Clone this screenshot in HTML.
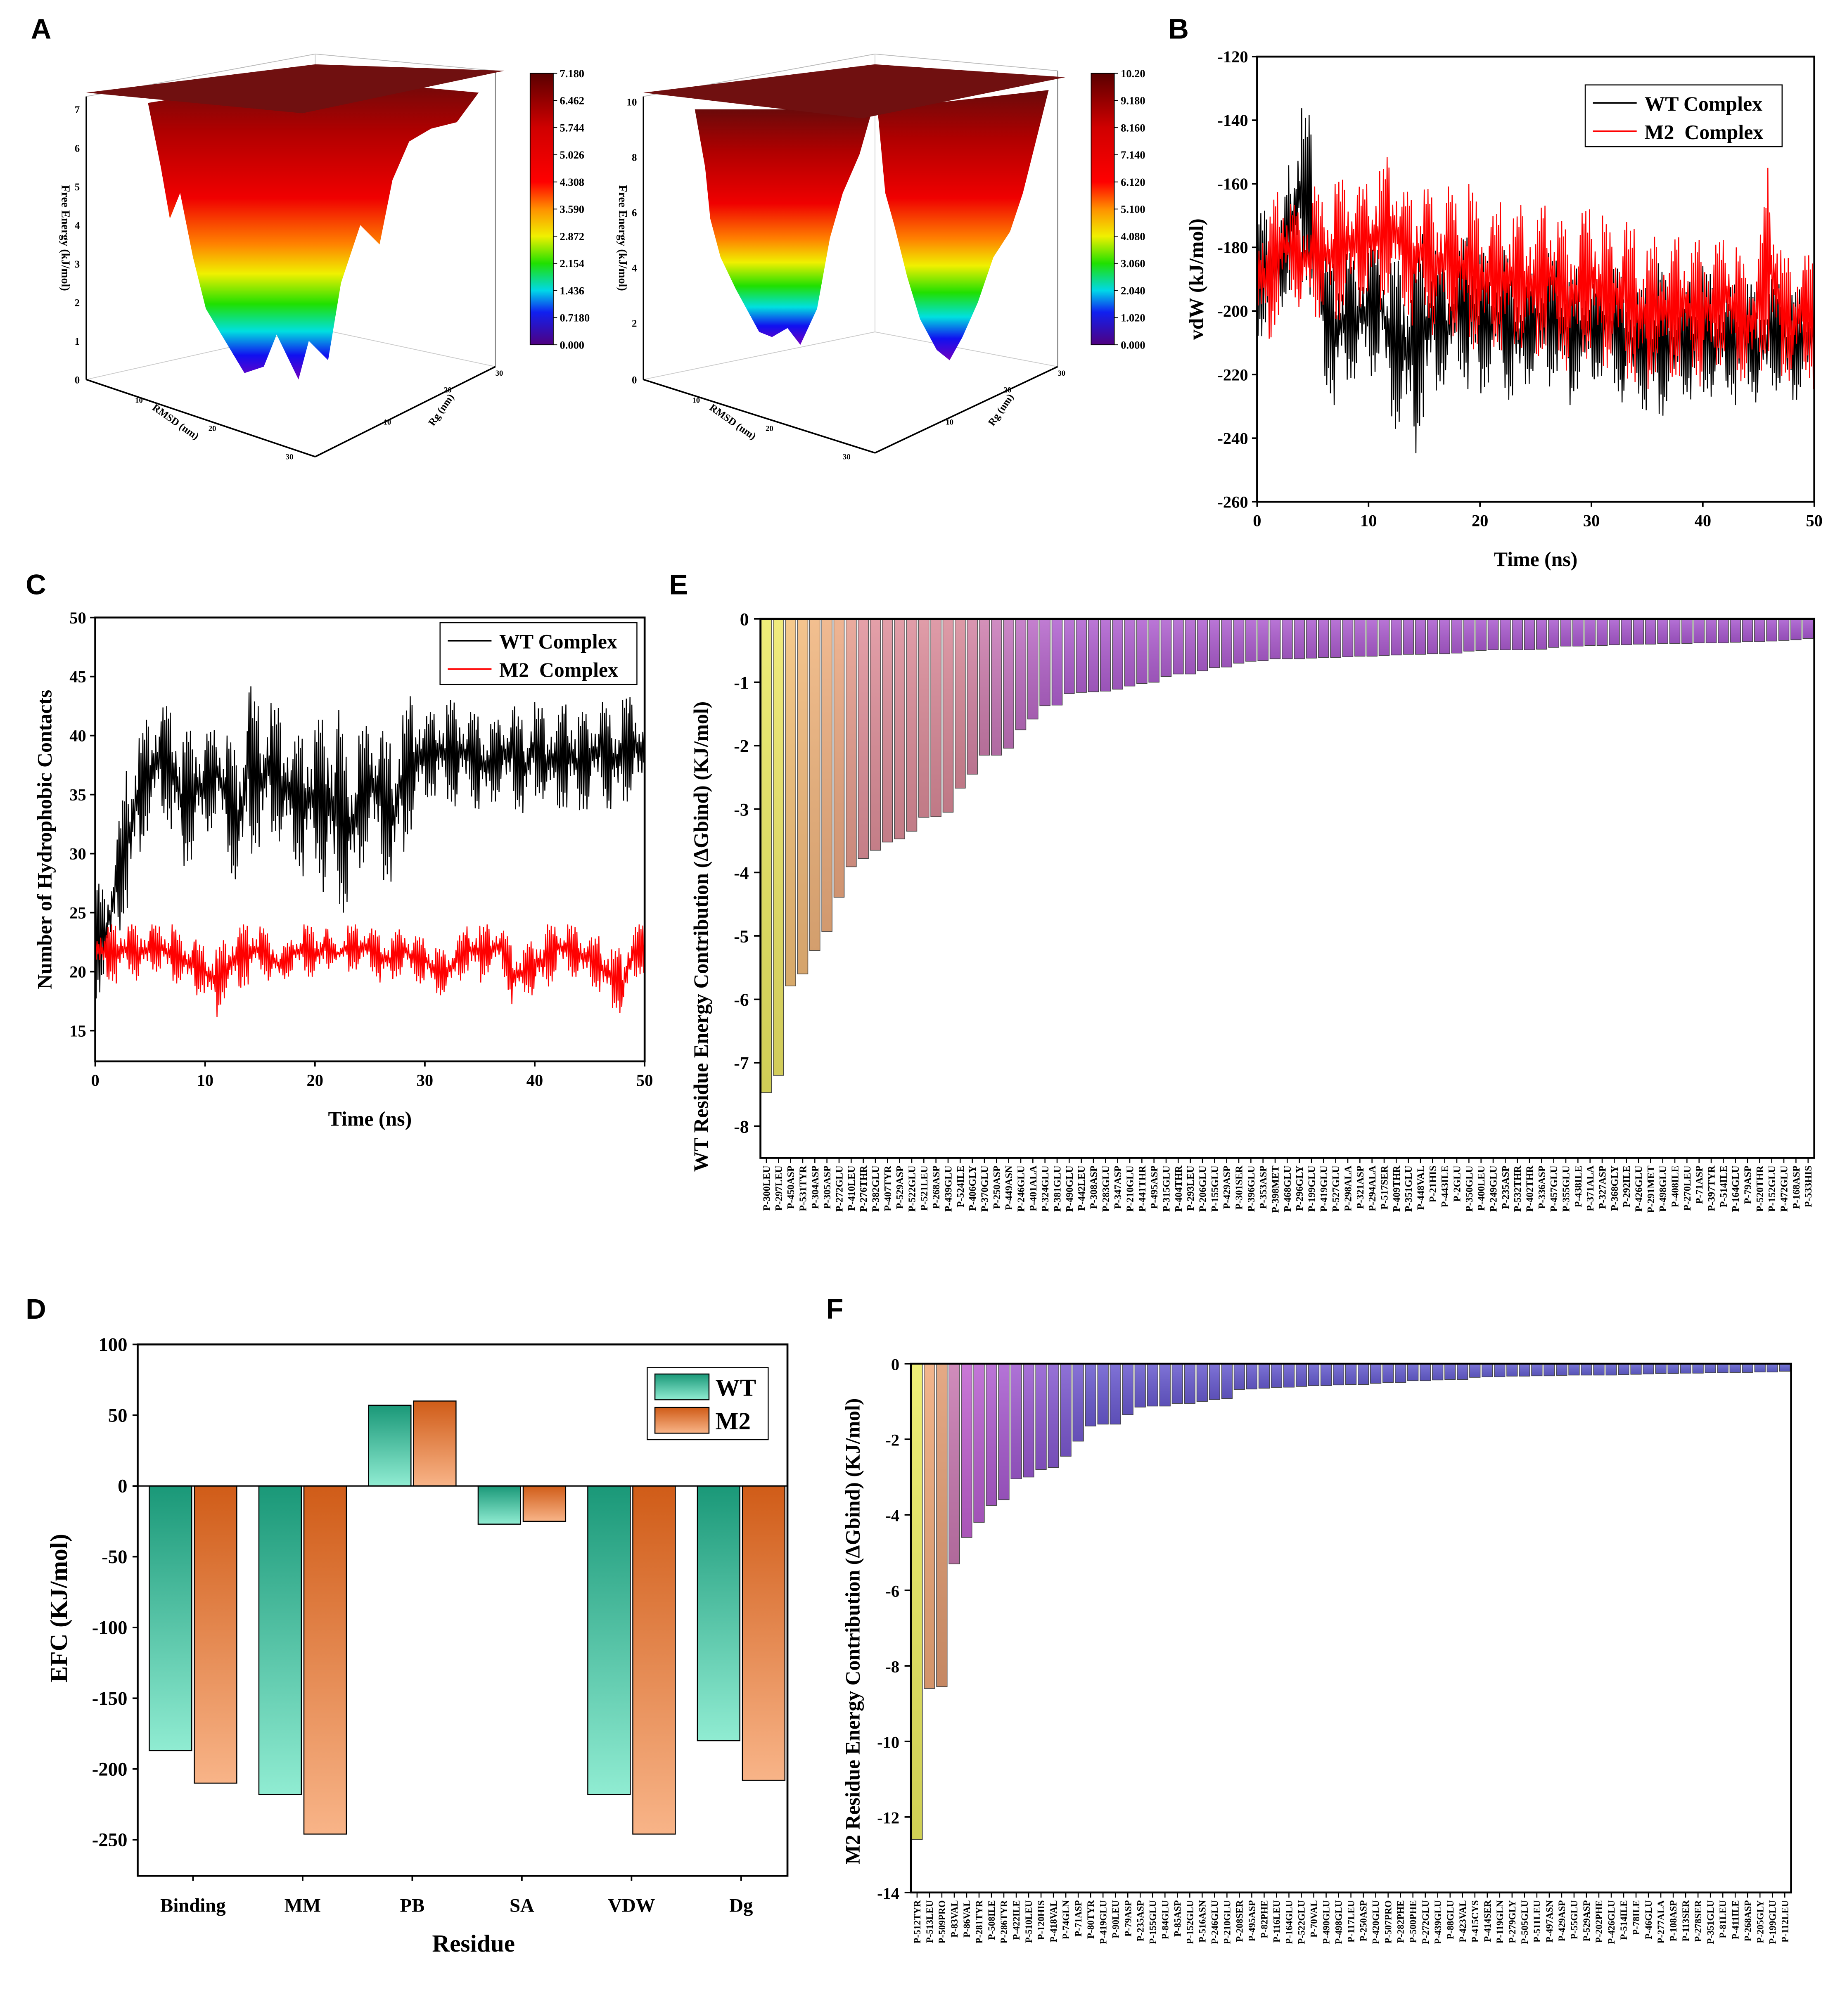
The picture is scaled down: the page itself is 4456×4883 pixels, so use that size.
<!DOCTYPE html>
<html><head><meta charset="utf-8"><style>
html,body{margin:0;padding:0;background:#fff;}
svg{display:block;}
text{font-family:"Liberation Serif",serif;font-weight:bold;fill:#000;}
.pl{font-family:"Liberation Sans",sans-serif;font-size:22px;}
</style></head><body>
<svg id="fig" width="4456" height="4883" viewBox="0 0 1430 1567" preserveAspectRatio="none" xmlns="http://www.w3.org/2000/svg">
<defs>
<linearGradient id="fe" x1="0" y1="0" x2="0" y2="1">
<stop offset="0" stop-color="#6a0a0a"/><stop offset="0.18" stop-color="#b00000"/><stop offset="0.4" stop-color="#f00000"/><stop offset="0.55" stop-color="#ff8000"/><stop offset="0.65" stop-color="#f0f000"/><stop offset="0.75" stop-color="#20e000"/><stop offset="0.84" stop-color="#00e0e0"/><stop offset="0.92" stop-color="#1010f0"/><stop offset="1" stop-color="#7000c0"/></linearGradient>
<linearGradient id="cb" x1="0" y1="0" x2="0" y2="1">
<stop offset="0" stop-color="#5a0000"/><stop offset="0.2" stop-color="#d00000"/><stop offset="0.4" stop-color="#ff0000"/><stop offset="0.5" stop-color="#ff9000"/><stop offset="0.6" stop-color="#f0f000"/><stop offset="0.7" stop-color="#20e000"/><stop offset="0.8" stop-color="#00d8e8"/><stop offset="0.88" stop-color="#1020f0"/><stop offset="1" stop-color="#500080"/></linearGradient>
<linearGradient id="wtN" x1="0" y1="0" x2="0" y2="1"><stop offset="0" stop-color="#1a9878"/><stop offset="1" stop-color="#90ecd2"/></linearGradient>
<linearGradient id="m2N" x1="0" y1="0" x2="0" y2="1"><stop offset="0" stop-color="#d05c18"/><stop offset="1" stop-color="#f8b488"/></linearGradient>
<linearGradient id="wtP" x1="0" y1="1" x2="0" y2="0"><stop offset="0" stop-color="#90ecd2"/><stop offset="1" stop-color="#1a9878"/></linearGradient>
<linearGradient id="m2P" x1="0" y1="1" x2="0" y2="0"><stop offset="0" stop-color="#f8b488"/><stop offset="1" stop-color="#d05c18"/></linearGradient>
<linearGradient id="shade" x1="0" y1="0" x2="0" y2="1"><stop offset="0" stop-color="#fff" stop-opacity="0.15"/><stop offset="1" stop-color="#000" stop-opacity="0.12"/></linearGradient>
</defs>

<text class="pl" x="24" y="30">A</text>
<text class="pl" x="908" y="30">B</text>
<text class="pl" x="20" y="462">C</text>
<text class="pl" x="520" y="462">E</text>
<text class="pl" x="20" y="1025">D</text>
<text class="pl" x="642" y="1025">F</text>

<g>
<polyline points="67,75 67,295 245,355 385,285 385,55" fill="none" stroke="#888" stroke-width="0.8"/>
<polyline points="67,75 245,42 385,55" fill="none" stroke="#bbb" stroke-width="0.6"/>
<line x1="245" y1="42" x2="245" y2="255" stroke="#ccc" stroke-width="0.6"/>
<line x1="67" y1="295" x2="245" y2="255" stroke="#ccc" stroke-width="0.6"/>
<line x1="385" y1="285" x2="245" y2="255" stroke="#ccc" stroke-width="0.6"/>
<polygon points="115,80 125,130 132,170 140,150 150,200 160,240 175,265 190,290 205,285 215,260 232,295 240,265 255,280 265,220 280,175 295,190 305,140 318,110 335,100 355,95 372,72 240,60" fill="url(#fe)"/>
<polygon points="67,72 245,50 392,55 235,88" fill="#701010"/>
<line x1="67" y1="295" x2="245" y2="355" stroke="#000" stroke-width="1.2"/>
<line x1="245" y1="355" x2="385" y2="285" stroke="#000" stroke-width="1.2"/>
<line x1="67" y1="75" x2="67" y2="295" stroke="#000" stroke-width="1"/>
</g>
<g font-size="8">
<text x="62" y="298" text-anchor="end">0</text><text x="62" y="268" text-anchor="end">1</text><text x="62" y="238" text-anchor="end">2</text><text x="62" y="208" text-anchor="end">3</text><text x="62" y="178" text-anchor="end">4</text><text x="62" y="148" text-anchor="end">5</text><text x="62" y="118" text-anchor="end">6</text><text x="62" y="88" text-anchor="end">7</text>
<text transform="translate(48,185) rotate(90)" text-anchor="middle" font-size="9">Free Energy (kJ/mol)</text>
<text transform="translate(135,330) rotate(35)" text-anchor="middle" font-size="8">RMSD (nm)</text>
<text transform="translate(345,320) rotate(-55)" text-anchor="middle" font-size="8">Rg (nm)</text>
<text x="105" y="313" font-size="6">10</text><text x="162" y="335" font-size="6">20</text><text x="222" y="357" font-size="6">30</text>
<text x="298" y="330" font-size="6">10</text><text x="345" y="305" font-size="6">20</text><text x="385" y="292" font-size="6">30</text>
</g>
<g>
<rect x="412" y="57" width="18" height="211" fill="url(#cb)" stroke="#000" stroke-width="0.6"/>
<g font-size="8.5" id="cbl1"></g>
</g>

<g>
<polyline points="500,75 500,295 680,352 822,285 822,55" fill="none" stroke="#888" stroke-width="0.8"/>
<polyline points="500,75 680,42 822,55" fill="none" stroke="#bbb" stroke-width="0.6"/>
<line x1="680" y1="42" x2="680" y2="258" stroke="#ccc" stroke-width="0.6"/>
<line x1="500" y1="295" x2="680" y2="258" stroke="#ccc" stroke-width="0.6"/>
<line x1="822" y1="285" x2="680" y2="258" stroke="#ccc" stroke-width="0.6"/>
<polygon points="540,85 548,130 552,170 560,200 572,225 590,258 600,262 612,255 622,268 635,240 645,185 655,150 668,120 678,85" fill="url(#fe)"/>
<polygon points="682,85 688,150 695,175 705,215 715,248 728,272 738,280 748,262 760,235 772,200 785,180 795,150 815,70" fill="url(#fe)"/>
<polygon points="500,72 680,50 828,60 670,92" fill="#701010"/>
<line x1="500" y1="295" x2="680" y2="352" stroke="#000" stroke-width="1.2"/>
<line x1="680" y1="352" x2="822" y2="285" stroke="#000" stroke-width="1.2"/>
<line x1="500" y1="75" x2="500" y2="295" stroke="#000" stroke-width="1"/>
</g>
<g font-size="8">
<text x="495" y="298" text-anchor="end">0</text><text x="495" y="254" text-anchor="end">2</text><text x="495" y="211" text-anchor="end">4</text><text x="495" y="168" text-anchor="end">6</text><text x="495" y="125" text-anchor="end">8</text><text x="495" y="82" text-anchor="end">10</text>
<text transform="translate(481,185) rotate(90)" text-anchor="middle" font-size="9">Free Energy (kJ/mol)</text>
<text transform="translate(568,330) rotate(35)" text-anchor="middle" font-size="8">RMSD (nm)</text>
<text transform="translate(780,320) rotate(-55)" text-anchor="middle" font-size="8">Rg (nm)</text>
<text x="538" y="313" font-size="6">10</text><text x="595" y="335" font-size="6">20</text><text x="655" y="357" font-size="6">30</text>
<text x="735" y="330" font-size="6">10</text><text x="780" y="305" font-size="6">20</text><text x="822" y="292" font-size="6">30</text>
</g>
<g>
<rect x="848" y="57" width="18" height="211" fill="url(#cb)" stroke="#000" stroke-width="0.6"/>
<g font-size="8.5" id="cbl2"></g>
</g>

<g id="pB"></g>
<g id="pC"></g>
<g id="pD"></g>
<g id="pE"></g>
<g id="pF"></g>
</svg>
<script>
const cbLabels1 = ["7.180","6.462","5.744","5.026","4.308","3.590","2.872","2.154","1.436","0.7180","0.000"];
const cbLabels2 = ["10.20","9.180","8.160","7.140","6.120","5.100","4.080","3.060","2.040","1.020","0.000"];

const bTime = [0,1,2,3,4,5,6,7,8,9,10,11,12,13,14,15,16,17,18,19,20,21,22,23,24,25,26,27,28,29,30,31,32,33,34,35,36,37,38,39,40,41,42,43,44,45,46,47,48,49,50];
const bWtHi = [-170,-165,-175,-150,-135,-140,-180,-185,-180,-185,-175,-180,-185,-180,-180,-175,-180,-185,-180,-175,-180,-185,-180,-185,-190,-185,-180,-185,-190,-185,-190,-190,-185,-190,-195,-190,-185,-190,-195,-190,-185,-190,-195,-190,-190,-195,-190,-190,-195,-190,-195];
const bWtLo = [-210,-205,-200,-195,-190,-200,-225,-230,-225,-220,-225,-215,-235,-240,-248,-235,-225,-225,-220,-225,-230,-220,-225,-230,-225,-220,-225,-220,-230,-225,-225,-220,-225,-230,-225,-235,-235,-230,-225,-230,-225,-230,-225,-230,-225,-230,-225,-225,-230,-225,-225];
const bM2Hi = [-165,-170,-160,-165,-170,-160,-165,-160,-155,-160,-160,-155,-150,-160,-165,-160,-165,-160,-165,-160,-165,-170,-165,-170,-165,-170,-165,-170,-175,-170,-165,-170,-175,-170,-175,-180,-175,-180,-175,-180,-175,-180,-175,-180,-185,-180,-150,-180,-185,-180,-185];
const bM2Lo = [-210,-215,-200,-195,-200,-205,-200,-205,-200,-200,-195,-200,-195,-200,-205,-200,-210,-205,-210,-210,-215,-210,-215,-210,-215,-220,-210,-215,-220,-215,-215,-220,-215,-220,-225,-225,-220,-225,-220,-220,-225,-220,-215,-220,-225,-220,-215,-220,-225,-220,-225];
const bYTicks = [-120,-140,-160,-180,-200,-220,-240,-260];
const xTicks = [0,10,20,30,40,50];

const cWtHi = [28,27,32,38,40,42,43,42,40,41,40,41,40,39,45,42,43,42,40,40,41,42,43,38,40,42,41,39,42,44,42,42,43,43,42,42,41,42,43,41,43,42,42,43,42,42,43,42,43,44,42];
const cWtLo = [17,20,23,25,30,32,33,32,28,30,31,33,30,26,30,30,32,30,29,28,29,26,25,25,28,31,28,27,30,32,34,35,34,34,35,33,34,35,34,33,35,34,33,34,33,34,35,33,34,35,34];
const cM2Hi = [24,24,24,24,24,24,24,24,23,23,22,22,23,24,24,24,23,22,23,24,24,24,22,24,24,24,23,23,24,23,23,22,22,23,24,24,24,24,22,22,23,24,24,24,24,23,23,22,22,24,24];
const cM2Lo = [20,19,19,20,19,20,20,19,19,18,18,16,18,18,19,20,19,19,20,20,19,20,21,20,20,20,19,19,20,19,19,18,18,19,20,19,20,20,17,18,18,18,20,20,19,19,18,17,16,19,20];
const cYTicks = [15,20,25,30,35,40,45,50];

const dCats = ["Binding","MM","PB","SA","VDW","Dg"];
const dWT = [-187,-218,57,-27,-218,-180];
const dM2 = [-210,-246,60,-25,-246,-208];
const dYTicks = [100,50,0,-50,-100,-150,-200,-250];

const eLabels = ["P-300LEU","P-297LEU","P-450ASP","P-531TYR","P-304ASP","P-305ASP","P-272GLU","P-410LEU","P-276THR","P-382GLU","P-407TYR","P-529ASP","P-522GLU","P-521LEU","P-268ASP","P-439GLU","P-524ILE","P-406GLY","P-370GLU","P-250ASP","P-449ASN","P-246GLU","P-401ALA","P-324GLU","P-381GLU","P-490GLU","P-442LEU","P-308ASP","P-283GLU","P-347ASP","P-210GLU","P-441THR","P-495ASP","P-315GLU","P-404THR","P-293LEU","P-206GLU","P-155GLU","P-429ASP","P-301SER","P-396GLU","P-353ASP","P-398MET","P-468GLU","P-296GLY","P-199GLU","P-419GLU","P-527GLU","P-298ALA","P-321ASP","P-294ALA","P-517SER","P-409THR","P-351GLU","P-448VAL","P-21HIS","P-443ILE","P-2GLU","P-350GLU","P-400LEU","P-249GLU","P-235ASP","P-532THR","P-402THR","P-336ASP","P-457GLU","P-355GLU","P-438ILE","P-371ALA","P-327ASP","P-368GLY","P-292ILE","P-426GLU","P-291MET","P-498GLU","P-408ILE","P-270LEU","P-71ASP","P-397TYR","P-514ILE","P-164GLU","P-79ASP","P-520THR","P-152GLU","P-472GLU","P-168ASP","P-533HIS"];
const eValues = [-7.47,-7.2,-5.79,-5.6,-5.23,-4.93,-4.39,-3.91,-3.78,-3.65,-3.52,-3.47,-3.35,-3.13,-3.12,-3.05,-2.67,-2.45,-2.15,-2.15,-2.04,-1.75,-1.58,-1.37,-1.36,-1.18,-1.16,-1.15,-1.14,-1.11,-1.06,-1.02,-1.0,-0.91,-0.87,-0.87,-0.82,-0.77,-0.76,-0.70,-0.67,-0.66,-0.63,-0.63,-0.63,-0.62,-0.61,-0.61,-0.6,-0.59,-0.59,-0.58,-0.57,-0.56,-0.56,-0.55,-0.55,-0.54,-0.51,-0.5,-0.49,-0.49,-0.49,-0.49,-0.48,-0.45,-0.43,-0.43,-0.42,-0.42,-0.41,-0.41,-0.40,-0.40,-0.39,-0.39,-0.39,-0.38,-0.38,-0.38,-0.37,-0.36,-0.36,-0.35,-0.34,-0.33,-0.31];
const eYTicks = [0,-1,-2,-3,-4,-5,-6,-7,-8];

const fLabels = ["P-512TYR","P-513LEU","P-509PRO","P-83VAL","P-86VAL","P-281TYR","P-508ILE","P-286TYR","P-422ILE","P-510LEU","P-120HIS","P-418VAL","P-74GLN","P-71ASP","P-80TYR","P-419GLU","P-90LEU","P-79ASP","P-235ASP","P-155GLU","P-84GLU","P-85ASP","P-152GLU","P-516ASN","P-246GLU","P-210GLU","P-208SER","P-495ASP","P-82PHE","P-116LEU","P-164GLU","P-522GLU","P-70VAL","P-490GLU","P-498GLU","P-117LEU","P-250ASP","P-420GLU","P-507PRO","P-282PHE","P-500PHE","P-272GLU","P-439GLU","P-88GLU","P-423VAL","P-415CYS","P-414SER","P-119GLN","P-279GLY","P-505GLU","P-511LEU","P-497ASN","P-429ASP","P-55GLU","P-529ASP","P-202PHE","P-426GLU","P-514ILE","P-78ILE","P-46GLU","P-277ALA","P-108ASP","P-113SER","P-278SER","P-351GLU","P-81LEU","P-411ILE","P-268ASP","P-205GLY","P-199GLU","P-112LEU"];
const fValues = [-12.6,-8.6,-8.55,-5.3,-4.6,-4.2,-3.75,-3.6,-3.05,-3.0,-2.8,-2.75,-2.45,-2.05,-1.65,-1.6,-1.6,-1.35,-1.15,-1.12,-1.12,-1.05,-1.05,-1.0,-0.95,-0.92,-0.68,-0.67,-0.65,-0.63,-0.62,-0.6,-0.58,-0.58,-0.56,-0.55,-0.55,-0.52,-0.5,-0.5,-0.45,-0.45,-0.43,-0.42,-0.42,-0.36,-0.35,-0.35,-0.33,-0.33,-0.32,-0.32,-0.31,-0.3,-0.3,-0.3,-0.3,-0.29,-0.28,-0.27,-0.26,-0.26,-0.25,-0.25,-0.24,-0.24,-0.23,-0.23,-0.22,-0.22,-0.2];
const fYTicks = [0,-2,-4,-6,-8,-10,-12,-14];

const NS = "http://www.w3.org/2000/svg";
function mk(parent, tag, attrs, txt){
  const e = document.createElementNS(NS, tag);
  for (const k in attrs) e.setAttribute(k, attrs[k]);
  if (txt !== undefined) e.textContent = txt;
  parent.appendChild(e);
  return e;
}
function hex(c){return [parseInt(c.slice(1,3),16),parseInt(c.slice(3,5),16),parseInt(c.slice(5,7),16)];}
function lerpColor(stops, i){
  for (let k=0;k<stops.length-1;k++){
    const a=stops[k], b=stops[k+1];
    if (i<=b[0]){
      const t=(i-a[0])/(b[0]-a[0]||1); const A=hex(a[1]),B=hex(b[1]);
      return "rgb("+A.map((v,j)=>Math.round(v+(B[j]-v)*t)).join(",")+")";
    }
  }
  return stops[stops.length-1][1];
}

[["cbl1",cbLabels1,433],["cbl2",cbLabels2,869]].forEach(([id,labs,x])=>{
  const g=document.getElementById(id);
  labs.forEach((l,i)=>{
    const y=57+i*21.1;
    const tk=mk(g,"line",{x1:x-3,x2:x,y1:y,y2:y,stroke:"#000","stroke-width":0.6});
    
    
    const t=mk(g,"text",{x:x+2,y:y+3},l);
    
    
  });
});

// jitter pattern (visual texture only, fraction of envelope)
const jit = [1,0.1,0.8,0.35,0.95,0,0.6,0.25,0.9,0.15,0.7,0.45];
function tsPanel(g, box, ymin, ymax, yTicks, series, yTitle, legend){
  const xs = v => box.x0 + (v/50)*(box.x1-box.x0);
  const ys = v => box.y1 - (v-ymin)/(ymax-ymin)*(box.y1-box.y0);
  const sub = 12;
  series.forEach((s,si)=>{
    let pts=[];
    for (let i=0;i<bTime.length-1;i++){
      for (let k=0;k<sub;k++){
        const f=k/sub;
        const hi=s.hi[i]+(s.hi[i+1]-s.hi[i])*f, lo=s.lo[i]+(s.lo[i+1]-s.lo[i])*f;
        const j=jit[(k+si*5+i)%jit.length];
        const v = k%2===0 ? lo+(hi-lo)*(0.55+0.45*j) : lo+(hi-lo)*(0.45*j);
        pts.push(xs(bTime[i]+f).toFixed(2)+","+ys(v).toFixed(2));
      }
    }
    pts.push(xs(bTime[bTime.length-1])+","+ys(s.hi[bTime.length-1]));
    const p=mk(g,"polyline",{points:pts.join(" "),fill:"none",stroke:s.color,"stroke-width":0.8,"stroke-linejoin":"bevel"});
    
    
  });
  const fr=mk(g,"rect",{x:box.x0,y:box.y0,width:box.x1-box.x0,height:box.y1-box.y0,fill:"none",stroke:"#000","stroke-width":1.5});
  
  
  yTicks.forEach(v=>{
    mk(g,"line",{x1:box.x0-4,x2:box.x0,y1:ys(v),y2:ys(v),stroke:"#000","stroke-width":1.2});
    const t=mk(g,"text",{x:box.x0-7,y:ys(v)+4.5,"text-anchor":"end","font-size":13},String(v));
    
    
  });
  xTicks.forEach(v=>{
    mk(g,"line",{x1:xs(v),x2:xs(v),y1:box.y1,y2:box.y1+4,stroke:"#000","stroke-width":1.2});
    const t=mk(g,"text",{x:xs(v),y:box.y1+19,"text-anchor":"middle","font-size":13},String(v));
    
    
  });
  const xt=mk(g,"text",{x:(box.x0+box.x1)/2,y:box.y1+50,"text-anchor":"middle","font-size":16},"Time (ns)");
  
  
  const yt=mk(g,"text",{transform:"translate("+yTitle.x+","+((box.y0+box.y1)/2)+") rotate(-90)","text-anchor":"middle","font-size":16},yTitle.t);
  
  
  const lg=mk(g,"g",{});
  
  
  mk(lg,"rect",{x:legend.x,y:legend.y,width:153,height:48,fill:"#fff",stroke:"#000","stroke-width":0.8});
  series.forEach((s,i)=>{
    const y=legend.y+14+i*22;
    mk(lg,"line",{x1:legend.x+6,x2:legend.x+40,y1:y,y2:y,stroke:s.color,"stroke-width":1.2});
    const t=mk(lg,"text",{x:legend.x+46,y:y+6,"font-size":16,"xml:space":"preserve"},s.label);
    
    
  });
}
tsPanel(document.getElementById("pB"),{x0:977,x1:1410,y0:44,y1:390},-260,-120,bYTicks,
  [{hi:bWtHi,lo:bWtLo,color:"#000",label:"WT Complex",name:"wt-vdw-line"},{hi:bM2Hi,lo:bM2Lo,color:"#f00",label:"M2\u00a0\u00a0Complex",name:"m2-vdw-line"}],
  {x:935,t:"vdW (kJ/mol)"},{x:1232,y:66});
tsPanel(document.getElementById("pC"),{x0:74,x1:501,y0:480,y1:825},12.4,50,cYTicks,
  [{hi:cWtHi,lo:cWtLo,color:"#000",label:"WT Complex",name:"wt-contacts-line"},{hi:cM2Hi,lo:cM2Lo,color:"#f00",label:"M2\u00a0\u00a0Complex",name:"m2-contacts-line"}],
  {x:40,t:"Number of Hydrophobic Contacts"},{x:342,y:484});

(function(){
  const g=document.getElementById("pD");
  const box={x0:107,x1:612,y0:1045,y1:1458};
  const ys=v=>1155-v*1.1;
  const cx=i=>150+i*85.2;
  dCats.forEach((c,i)=>{
    [[dWT,"wt",-34],[dM2,"m2",1]].forEach(([arr,k,off])=>{
      const v=arr[i];
      const y=Math.min(ys(0),ys(v)), h=Math.abs(ys(v)-ys(0));
      const r=mk(g,"rect",{x:cx(i)+off,y:y,width:33,height:h,fill:"url(#"+k+(v<0?"N":"P")+")",stroke:"#000","stroke-width":0.8});
      
      
    });
    mk(g,"line",{x1:cx(i),x2:cx(i),y1:box.y1,y2:box.y1+4,stroke:"#000","stroke-width":1.2});
    const t=mk(g,"text",{x:cx(i),y:box.y1+28,"text-anchor":"middle","font-size":15},c);
    
    
  });
  mk(g,"line",{x1:box.x0,x2:box.x1,y1:ys(0),y2:ys(0),stroke:"#000","stroke-width":1});
  const fr=mk(g,"rect",{x:box.x0,y:box.y0,width:box.x1-box.x0,height:box.y1-box.y0,fill:"none",stroke:"#000","stroke-width":1.5});
  
  
  dYTicks.forEach(v=>{
    mk(g,"line",{x1:box.x0-4,x2:box.x0,y1:ys(v),y2:ys(v),stroke:"#000","stroke-width":1.2});
    const t=mk(g,"text",{x:box.x0-8,y:ys(v)+5,"text-anchor":"end","font-size":15},String(v));
    
    
  });
  const xt=mk(g,"text",{x:368,y:1517,"text-anchor":"middle","font-size":19},"Residue");
  
  
  const yt=mk(g,"text",{transform:"translate(52,1250) rotate(-90)","text-anchor":"middle","font-size":19},"EFC (KJ/mol)");
  
  
  const lg=mk(g,"g",{});
  
  
  mk(lg,"rect",{x:503,y:1063,width:94,height:56,fill:"#fff",stroke:"#000","stroke-width":0.8});
  mk(lg,"rect",{x:509,y:1068,width:42,height:20,fill:"url(#wtP)",stroke:"#000","stroke-width":0.8});
  mk(lg,"rect",{x:509,y:1094,width:42,height:20,fill:"url(#m2P)",stroke:"#000","stroke-width":0.8});
  const l1=mk(lg,"text",{x:556,y:1085,"font-size":19},"WT");
  
  
  const l2=mk(lg,"text",{x:556,y:1111,"font-size":19},"M2");
  
  
})();

function resPanel(g, box, vals, labels, yTicks, ymin, stops, title, titleX, lblFont, tickFont, titleY){
  const ys=v=>box.y0+(v/ymin)*(box.y1-box.y0);
  const step=(box.x1-box.x0)/vals.length;
  vals.forEach((v,i)=>{
    const x=box.x0+i*step+0.6;
    const col=lerpColor(stops,i);
    const r=mk(g,"rect",{x:x,y:ys(0),width:step-1.4,height:ys(v)-ys(0),fill:col,stroke:"#444","stroke-width":0.5});
    
    
    mk(g,"rect",{x:x,y:ys(0),width:step-1.4,height:ys(v)-ys(0),fill:"url(#shade)"});
    const cxp=x+(step-1.4)/2;
    mk(g,"line",{x1:cxp,x2:cxp,y1:box.y1,y2:box.y1+4,stroke:"#000","stroke-width":0.8});
    const t=mk(g,"text",{transform:"translate("+(cxp+lblFont*0.35)+","+(box.y1+6)+") rotate(-90)","text-anchor":"end","font-size":lblFont},labels[i]);
    
    
  });
  const fr=mk(g,"rect",{x:box.x0,y:box.y0,width:box.x1-box.x0,height:box.y1-box.y0,fill:"none",stroke:"#000","stroke-width":1.5});
  
  
  yTicks.forEach(v=>{
    mk(g,"line",{x1:box.x0-5,x2:box.x0,y1:ys(v),y2:ys(v),stroke:"#000","stroke-width":1.2});
    const t=mk(g,"text",{x:box.x0-9,y:ys(v)+5,"text-anchor":"end","font-size":tickFont},String(v));
    
    
  });
  const yt=mk(g,"text",{transform:"translate("+titleX+","+titleY+") rotate(-90)","text-anchor":"middle","font-size":16},title);
  
  
}
resPanel(document.getElementById("pE"),{x0:591,x1:1410,y0:481,y1:900},eValues,eLabels,eYTicks,-8.5,
  [[0,"#ecea62"],[1,"#eee866"],[2,"#f4c078"],[6,"#eca880"],[8,"#e0909a"],[16,"#d88898"],[19,"#c878b8"],[24,"#b060d0"],[86,"#a858d0"]],
  "WT Residue Energy Contribution (\u0394Gbind) (KJ/mol)",550,7.8,14,728);
resPanel(document.getElementById("pF"),{x0:708,x1:1392,y0:1060,y1:1471},fValues,fLabels,fYTicks,-14,
  [[0,"#ecec60"],[1,"#f0a878"],[2,"#e09a70"],[3,"#c878b0"],[4,"#c060d0"],[9,"#9858d0"],[14,"#6a5ad0"],[70,"#6262d2"]],
  "M2 Residue Energy Contribution (\u0394Gbind) (KJ/mol)",668,7.4,13,1268);
</script>
</body></html>
